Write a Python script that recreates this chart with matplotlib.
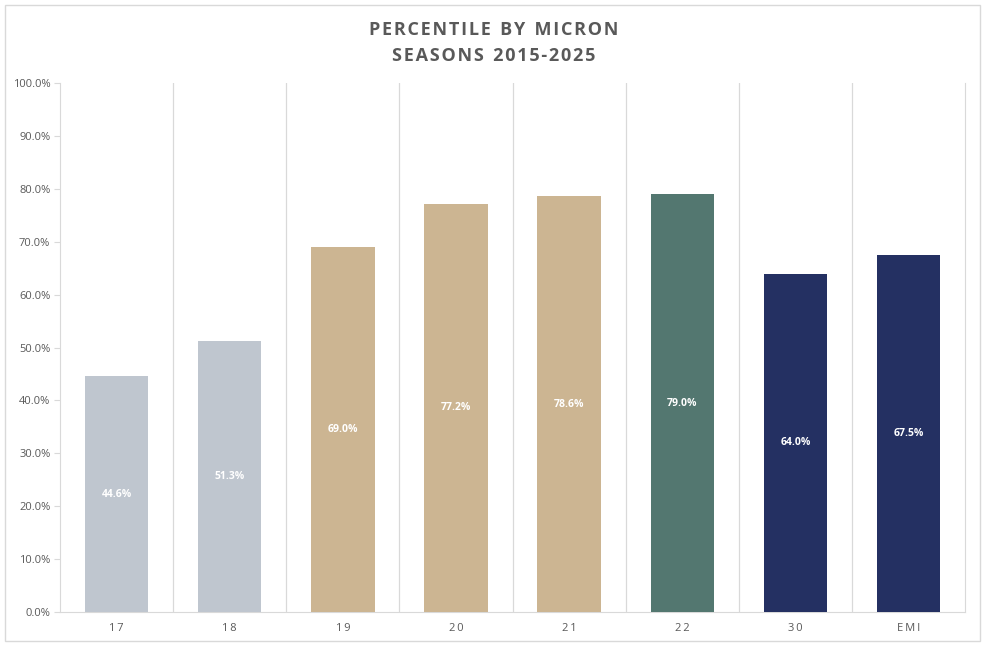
import matplotlib.pyplot as plt
from matplotlib.patches import Rectangle
from matplotlib.ticker import PercentFormatter

# Data
categories = ['17', '18', '19', '20', '21', '22', '30', 'EMI']
percentiles = [44.6, 51.3, 69.0, 77.2, 78.6, 79.0, 64.0, 67.5]
bar_colors = ['#BFC6CF', '#BFC6CF', '#CCB592', '#CCB592', '#CCB592',
              '#537770', '#243062', '#243062']
title_lines = ['PERCENTILE BY MICRON', 'SEASONS 2015-2025']

plt.rcParams['font.family'] = ['Open Sans', 'DejaVu Sans']


def spaced(s):
    # mimic Excel's letter spacing
    return '\u200a'.join(s).replace('\u200a \u200a', '  ')


fig = plt.figure(figsize=(9.87, 6.48), dpi=100)
ax = fig.add_axes([0.0608, 0.0556, 0.917, 0.816])

x = list(range(len(categories)))
ax.bar(x, percentiles, width=0.56, color=bar_colors, zorder=3)

# value labels in middle of bars
for xi, v in zip(x, percentiles):
    ax.text(xi, v / 2, f'{v:.1f}%', ha='center', va='center',
            color='white', fontsize=7.5, fontweight='bold', zorder=4)

ax.set_xlim(-0.5, len(categories) - 0.5)
ax.set_ylim(0, 100)
ax.set_yticks(range(0, 101, 10))
ax.yaxis.set_major_formatter(PercentFormatter(decimals=1))

# vertical separators between categories
for b in range(1, len(categories)):
    ax.axvline(b - 0.5, color='#D9D9D9', lw=0.9, zorder=1)

ax.set_xticks(x)
ax.set_xticklabels(['\u2009'.join(c) for c in categories])
ax.tick_params(axis='x', length=0, pad=8, labelsize=8, labelcolor='#595959')
ax.tick_params(axis='y', length=4, color='#D9D9D9', labelsize=8,
               labelcolor='#595959', pad=3)

ax.spines['top'].set_visible(False)
for side in ['right', 'left', 'bottom']:
    ax.spines[side].set_color('#D9D9D9')

fig.text(0.5, 1 - 30 / 648, spaced(title_lines[0]), ha='center', va='center',
         fontsize=13, fontweight='bold', color='#595959')
fig.text(0.5, 1 - 56 / 648, spaced(title_lines[1]), ha='center', va='center',
         fontsize=13, fontweight='bold', color='#595959')

# outer border
fig.patches.append(Rectangle((0.005, 0.011), 0.988, 0.981, transform=fig.transFigure,
                             fill=False, edgecolor='#D9D9D9', lw=1))

fig.savefig('out.png', dpi=100)
